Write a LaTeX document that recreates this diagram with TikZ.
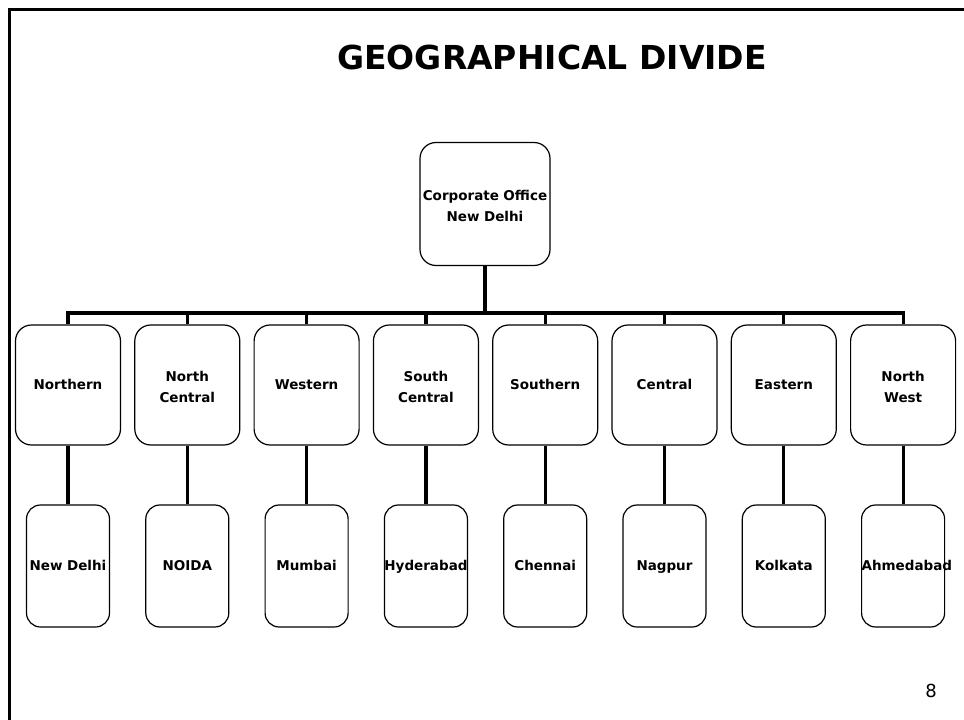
\documentclass[tikz,border=0pt]{standalone}
\usepackage{fontspec}
\setmainfont{DejaVu Sans}
\begin{document}
\begin{tikzpicture}[x=1pt,y=-1pt,
  box/.style={draw,line width=1.2pt,rounded corners=16pt,inner sep=0pt,align=center,
    font=\bfseries\fontsize{13.5}{20.5}\selectfont,execute at begin node=\strut},
  office/.style={box,text width=130pt,minimum height=123pt},
  region/.style={box,text width=105pt,minimum height=120pt},
  city/.style={box,rounded corners=14pt,text width=83pt,minimum height=122pt},
  link/.style={line width=3.2pt}]

\useasboundingbox (0,0) rectangle (964,720);

\draw[line width=3pt] (9,720) -- (9,9) -- (964,9);

\node[font=\bfseries\fontsize{33}{38}\selectfont] (title) at (552,57) {GEOGRAPHICAL DIVIDE};

\node[office] (corp) at (485,204) {Corporate Office\\New Delhi};
\coordinate (bus) at (485,313);
\draw[link] (corp.south) -- (bus);

\foreach \reg/\cty [count=\i] in {Northern/New Delhi,North\\Central/NOIDA,Western/Mumbai,
    South\\Central/Hyderabad,Southern/Chennai,Central/Nagpur,Eastern/Kolkata,North\\West/Ahmedabad}
{
  \node[region] (reg\i) at ({68+119.3*(\i-1)},385) {\reg};
  \node[city] (city\i) at ({68+119.3*(\i-1)},566) {\cty};
  \draw[link] (reg\i.north) |- (bus);
  \draw[link] (reg\i.south) -- (city\i.north);
}

\node[font=\fontsize{18}{20}\selectfont] (page) at (931,691) {8};

\end{tikzpicture}
\end{document}
